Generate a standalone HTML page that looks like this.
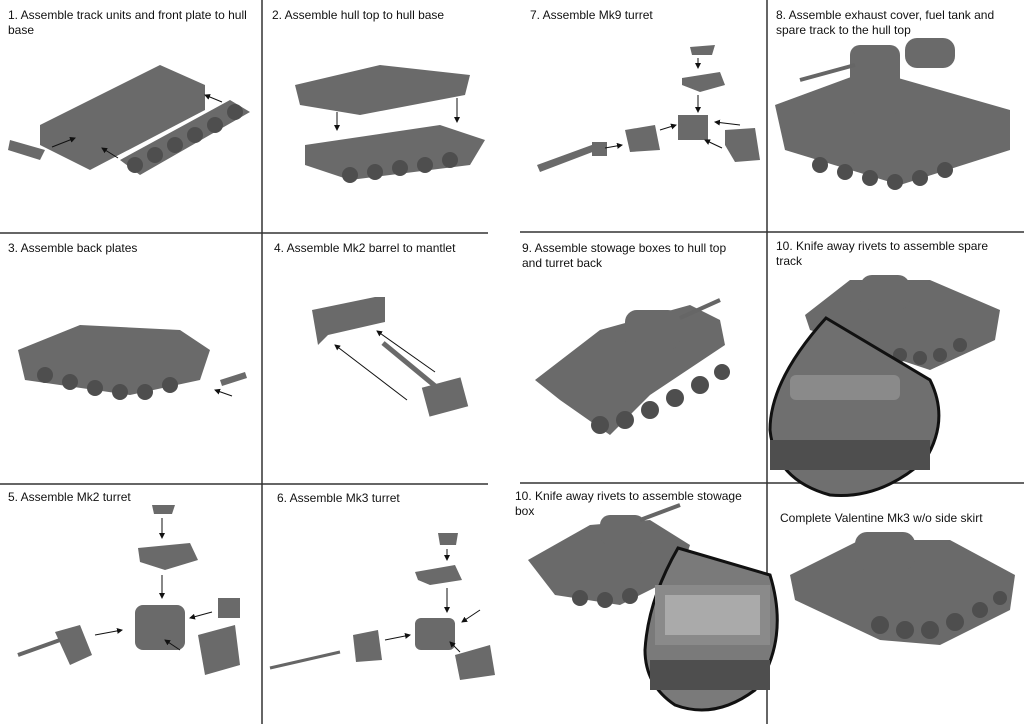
<!DOCTYPE html>
<html><head><meta charset="utf-8"><style>
html,body{margin:0;padding:0;background:#fff}
svg{display:block}
text{font-family:"Liberation Sans",Arial,sans-serif;font-size:12px;fill:#111}
.t{fill:#6a6a6a}
.d{fill:#4e4e4e}
.l{fill:#8a8a8a}
.a{stroke:#111;stroke-width:1;fill:none}
</style></head><body>
<svg width="1024" height="724" viewBox="0 0 1024 724">
<defs><marker id="m" markerWidth="6" markerHeight="6" refX="5" refY="3" orient="auto"><path d="M0,0 L6,3 L0,6z" fill="#111"/></marker></defs>
<!-- grid -->
<g stroke="#333" stroke-width="1.5">
<line x1="262" y1="0" x2="262" y2="724"/>
<line x1="767" y1="0" x2="767" y2="724"/>
<line x1="0" y1="233" x2="488" y2="233"/>
<line x1="0" y1="484" x2="488" y2="484"/>
<line x1="520" y1="232" x2="1024" y2="232"/>
<line x1="520" y1="483" x2="1024" y2="483"/>
</g>
<!-- labels -->
<text x="8" y="19">1. Assemble track units and front plate to hull</text>
<text x="8" y="34">base</text>
<text x="272" y="19">2. Assemble hull top to hull base</text>
<text x="530" y="19">7. Assemble Mk9 turret</text>
<text x="776" y="19">8. Assemble exhaust cover, fuel tank and</text>
<text x="776" y="34">spare track to the hull top</text>
<text x="8" y="252">3. Assemble back plates</text>
<text x="274" y="252">4. Assemble Mk2 barrel to mantlet</text>
<text x="522" y="252">9. Assemble stowage boxes to hull top</text>
<text x="522" y="267">and turret back</text>
<text x="776" y="250">10. Knife away rivets to assemble spare</text>
<text x="776" y="265">track</text>
<text x="8" y="501">5. Assemble Mk2 turret</text>
<text x="277" y="502">6. Assemble Mk3 turret</text>
<text x="515" y="500">10. Knife away rivets to assemble stowage</text>
<text x="515" y="515">box</text>
<text x="780" y="522">Complete Valentine Mk3 w/o side skirt</text>

<!-- panel 1 -->
<polygon class="t" points="40,125 160,65 205,85 205,110 90,170 40,145"/>
<polygon class="t" points="120,160 230,100 250,112 140,175"/>
<g class="d"><circle cx="135" cy="165" r="8"/><circle cx="155" cy="155" r="8"/><circle cx="175" cy="145" r="8"/><circle cx="195" cy="135" r="8"/><circle cx="215" cy="125" r="8"/><circle cx="235" cy="112" r="8"/></g>
<polygon class="t" points="10,140 45,150 40,160 8,150"/>
<line class="a" x1="52" y1="147" x2="75" y2="138" marker-end="url(#m)"/>
<line class="a" x1="118" y1="158" x2="102" y2="148" marker-end="url(#m)"/>
<line class="a" x1="222" y1="102" x2="205" y2="95" marker-end="url(#m)"/>
<!-- panel 2 -->
<polygon class="t" points="295,85 380,65 470,75 465,95 360,115 300,105"/>
<polygon class="t" points="305,145 440,125 485,140 470,165 350,180 305,165"/>
<g class="d"><circle cx="350" cy="175" r="8"/><circle cx="375" cy="172" r="8"/><circle cx="400" cy="168" r="8"/><circle cx="425" cy="165" r="8"/><circle cx="450" cy="160" r="8"/></g>
<line class="a" x1="337" y1="112" x2="337" y2="130" marker-end="url(#m)"/>
<line class="a" x1="457" y1="98" x2="457" y2="122" marker-end="url(#m)"/>
<!-- panel 7 -->
<polygon class="t" points="690,47 715,45 712,55 692,55"/>
<polygon class="t" points="682,78 720,72 725,85 700,92 682,85"/>
<rect class="t" x="678" y="115" width="30" height="25"/>
<polygon class="t" points="625,130 655,125 660,150 630,152"/>
<polygon class="t" points="725,130 755,128 760,160 735,162 725,145"/>
<polygon class="t" points="537,165 600,142 603,148 540,172"/>
<rect class="t" x="592" y="142" width="15" height="14"/>
<g class="a"><line x1="698" y1="58" x2="698" y2="68" marker-end="url(#m)"/><line x1="698" y1="95" x2="698" y2="112" marker-end="url(#m)"/><line x1="605" y1="148" x2="622" y2="145" marker-end="url(#m)"/><line x1="660" y1="130" x2="676" y2="125" marker-end="url(#m)"/><line x1="722" y1="148" x2="705" y2="140" marker-end="url(#m)"/><line x1="740" y1="125" x2="715" y2="122" marker-end="url(#m)"/></g>
<!-- panel 8 -->
<polygon class="t" points="775,105 870,70 1010,110 1010,150 900,185 785,150"/>
<rect class="t" x="850" y="45" width="50" height="70" rx="10"/>
<rect class="t" x="905" y="38" width="50" height="30" rx="12"/>
<line stroke="#666" stroke-width="4" x1="800" y1="80" x2="855" y2="65"/>
<g class="d"><circle cx="820" cy="165" r="8"/><circle cx="845" cy="172" r="8"/><circle cx="870" cy="178" r="8"/><circle cx="895" cy="182" r="8"/><circle cx="920" cy="178" r="8"/><circle cx="945" cy="170" r="8"/></g>
<!-- panel 3 -->
<polygon class="t" points="18,350 80,325 180,330 210,350 200,380 130,395 25,380"/>
<g class="d"><circle cx="45" cy="375" r="8"/><circle cx="70" cy="382" r="8"/><circle cx="95" cy="388" r="8"/><circle cx="120" cy="392" r="8"/><circle cx="145" cy="392" r="8"/><circle cx="170" cy="385" r="8"/></g>
<polygon class="t" points="220,380 245,372 247,378 222,386"/>
<line class="a" x1="232" y1="396" x2="215" y2="390" marker-end="url(#m)"/>
<!-- panel 4 -->
<polygon class="t" points="312,310 375,297 385,297 385,322 328,335 318,345"/>
<line stroke="#6a6a6a" stroke-width="5" x1="383" y1="343" x2="440" y2="390"/>
<rect class="t" x="425" y="382" width="40" height="30" transform="rotate(-15 445 397)"/>
<line class="a" x1="435" y1="372" x2="377" y2="331" marker-end="url(#m)"/>
<line class="a" x1="407" y1="400" x2="335" y2="345" marker-end="url(#m)"/>
<!-- panel 9 -->
<polygon class="t" points="535,380 600,330 690,305 720,320 725,345 650,395 610,435 560,400"/>
<rect class="t" x="625" y="310" width="55" height="40" rx="12"/>
<line stroke="#666" stroke-width="4" x1="680" y1="318" x2="720" y2="300"/>
<g class="d"><circle cx="600" cy="425" r="9"/><circle cx="625" cy="420" r="9"/><circle cx="650" cy="410" r="9"/><circle cx="675" cy="398" r="9"/><circle cx="700" cy="385" r="9"/><circle cx="722" cy="372" r="8"/></g>
<!-- panel 10 spare -->
<polygon class="t" points="805,315 850,280 930,280 1000,310 995,340 930,370 870,350 810,330"/>
<rect class="t" x="860" y="275" width="50" height="35" rx="12"/>
<g class="d"><circle cx="900" cy="355" r="7"/><circle cx="920" cy="358" r="7"/><circle cx="940" cy="355" r="7"/><circle cx="960" cy="345" r="7"/></g>
<path d="M826,318 L930,380 Q950,420 925,460 Q880,500 830,495 Q775,480 770,430 Q770,380 826,318Z" fill="#6f6f6f" stroke="#111" stroke-width="3"/>
<rect class="d" x="770" y="440" width="160" height="30"/>
<rect class="l" x="790" y="375" width="110" height="25" rx="6"/>
<!-- panel 5 -->
<polygon class="t" points="152,505 175,505 172,514 154,514"/>
<polygon class="t" points="138,548 190,543 198,560 165,570 140,562"/>
<rect class="t" x="135" y="605" width="50" height="45" rx="8"/>
<polygon class="t" points="198,635 235,625 240,665 205,675"/>
<rect class="t" x="218" y="598" width="22" height="20"/>
<polygon class="t" points="55,632 80,625 92,655 70,665"/>
<line stroke="#666" stroke-width="4" x1="18" y1="655" x2="60" y2="640"/>
<g class="a"><line x1="162" y1="518" x2="162" y2="538" marker-end="url(#m)"/><line x1="162" y1="575" x2="162" y2="598" marker-end="url(#m)"/><line x1="95" y1="635" x2="122" y2="630" marker-end="url(#m)"/><line x1="212" y1="612" x2="190" y2="618" marker-end="url(#m)"/><line x1="180" y1="650" x2="165" y2="640" marker-end="url(#m)"/></g>
<!-- panel 6 -->
<polygon class="t" points="438,533 458,533 456,545 440,545"/>
<polygon class="t" points="415,572 455,565 462,580 430,585 418,580"/>
<rect class="t" x="415" y="618" width="40" height="32" rx="6"/>
<polygon class="t" points="455,655 490,645 495,675 460,680"/>
<polygon class="t" points="353,635 378,630 382,660 356,662"/>
<line stroke="#666" stroke-width="3" x1="270" y1="668" x2="340" y2="652"/>
<g class="a"><line x1="447" y1="549" x2="447" y2="560" marker-end="url(#m)"/><line x1="447" y1="588" x2="447" y2="612" marker-end="url(#m)"/><line x1="385" y1="640" x2="410" y2="635" marker-end="url(#m)"/><line x1="480" y1="610" x2="462" y2="622" marker-end="url(#m)"/><line x1="460" y1="652" x2="450" y2="642" marker-end="url(#m)"/></g>
<!-- panel 10 stowage -->
<polygon class="t" points="528,560 590,525 650,520 690,545 680,575 620,605 555,595"/>
<rect class="t" x="600" y="515" width="45" height="30" rx="10"/>
<line stroke="#666" stroke-width="4" x1="640" y1="520" x2="680" y2="505"/>
<g class="d"><circle cx="580" cy="598" r="8"/><circle cx="605" cy="600" r="8"/><circle cx="630" cy="596" r="8"/></g>
<path d="M678,548 L770,575 Q790,640 755,690 Q715,720 675,705 Q645,685 645,650 Q648,600 678,548Z" fill="#7a7a7a" stroke="#111" stroke-width="3"/>
<rect class="l" x="655" y="585" width="115" height="60"/>
<rect fill="#aaa" x="665" y="595" width="95" height="40"/>
<rect class="d" x="650" y="660" width="120" height="30"/>
<!-- complete -->
<polygon class="t" points="790,575 860,540 950,540 1015,575 1010,610 940,645 880,640 795,600"/>
<rect class="t" x="855" y="532" width="60" height="38" rx="12"/>
<g class="d"><circle cx="880" cy="625" r="9"/><circle cx="905" cy="630" r="9"/><circle cx="930" cy="630" r="9"/><circle cx="955" cy="622" r="9"/><circle cx="980" cy="610" r="8"/><circle cx="1000" cy="598" r="7"/></g>
</svg>
</body></html>
